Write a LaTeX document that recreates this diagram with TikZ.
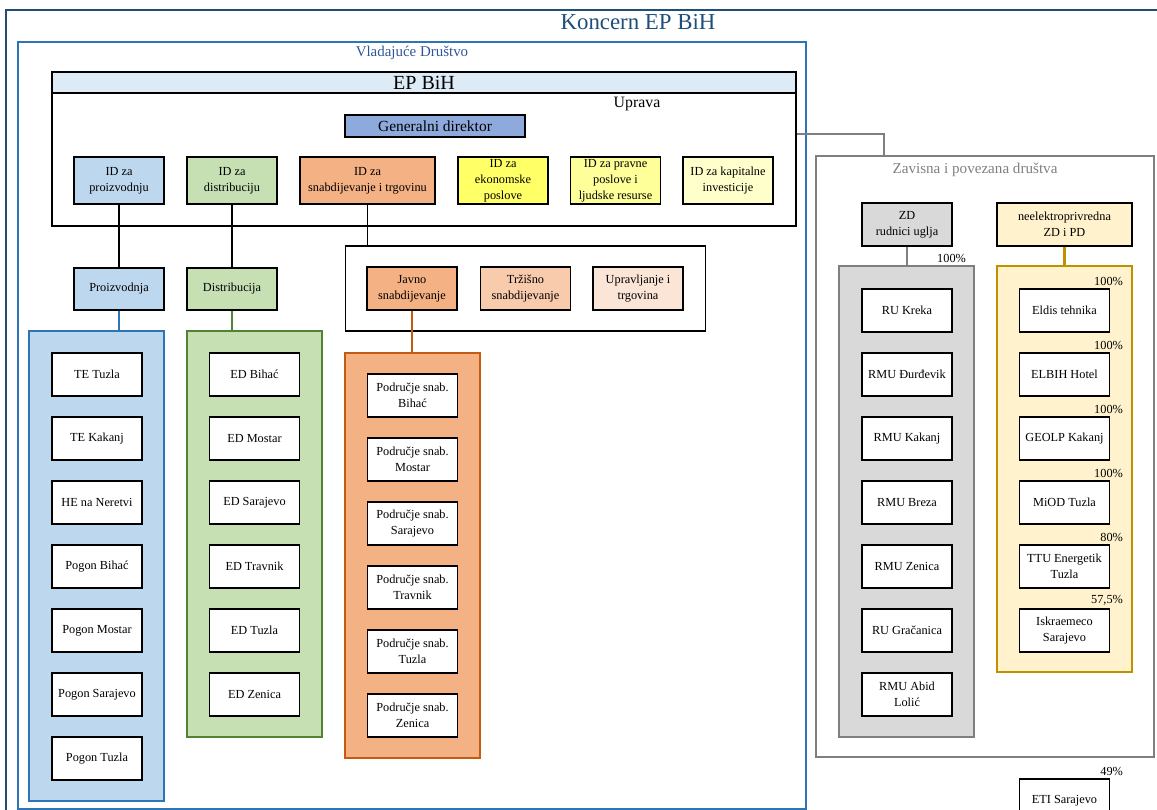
\documentclass[tikz,border=0pt]{standalone}
\usepackage{fontspec}
\setmainfont{Liberation Serif}
\usetikzlibrary{positioning}

\definecolor{naslov}{HTML}{1F4E79}
\definecolor{vlad}{HTML}{2E75B6}
\definecolor{vladtekst}{HTML}{2F5597}
\definecolor{zaglavlje}{HTML}{DDEBF7}
\definecolor{gdboja}{HTML}{8EA9DB}
\definecolor{fproiz}{HTML}{BDD7EE}
\definecolor{fdist}{HTML}{C6E0B4}
\definecolor{cdist}{HTML}{548235}
\definecolor{fsnab}{HTML}{F4B183}
\definecolor{csnab}{HTML}{C55A11}
\definecolor{ftrz}{HTML}{F8CBAD}
\definecolor{fupr}{HTML}{FBE5D6}
\definecolor{fekon}{HTML}{FFFF66}
\definecolor{fpravne}{HTML}{FFFF99}
\definecolor{fkap}{HTML}{FFFFCC}
\definecolor{fsiva}{HTML}{D9D9D9}
\definecolor{csiva}{HTML}{7F7F7F}
\definecolor{fzlat}{HTML}{FFF2CC}
\definecolor{czlat}{HTML}{BF9000}

\tikzset{
  jed/.style={draw=black, line width=0.6pt, fill=white, minimum width=1.8cm,
    minimum height=0.86cm, align=center, inner sep=1pt,
    font=\fontsize{7}{9}\selectfont},
  okvir/.style={line width=1.2pt, inner sep=0pt},
  udio/.style={anchor=south east, inner sep=1pt, font=\fontsize{7}{8}\selectfont}
}

\begin{document}
\begin{tikzpicture}[x=0.02cm, y=-0.02cm]
\useasboundingbox (0,0) rectangle (1157,810);

% koncern i vladajuce drustvo
\draw[naslov, line width=1pt] (6,812) -- (6,10) -- (1160,10);
\node[naslov, font=\fontsize{13}{15}\selectfont] (koncern) at (638,22) {Koncern EP BiH};
\draw[vlad, line width=1.2pt] (18,42) rectangle (806,809);
\node[vladtekst, font=\fontsize{8.5}{10}\selectfont] (vladajuce) at (412,53) {Vladajuće Društvo};

% EP BiH
\node[draw=black, line width=0.6pt, fill=zaglavlje, minimum width=14.88cm, minimum height=0.42cm,
  inner sep=0pt, font=\fontsize{11.4}{13}\selectfont] (zaglav) at (424,82.5) {EP BiH};
\node[draw=black, line width=1.2pt, minimum width=14.88cm, minimum height=3.08cm] (epbih) at (424,149) {};
\node[font=\fontsize{9}{10}\selectfont] (uprava) at (637,104) {Uprava};
\node[jed, fill=gdboja, minimum width=3.6cm, minimum height=0.44cm,
  font=\fontsize{8.8}{10}\selectfont] (gd) at (435,126) {Generalni direktor};

\node[jed, fill=fproiz, minimum height=0.94cm] (idproiz) at (119,180.5) {ID za\\proizvodnju};
\node[jed, fill=fdist, minimum height=0.94cm] (iddist) at (232,180.5) {ID za\\distribuciju};
\node[jed, fill=fsnab, minimum height=0.94cm, minimum width=2.7cm] (idsnab) at (367.5,180.5) {ID za\\snabdijevanje i trgovinu};
\node[jed, fill=fekon, minimum height=0.94cm, inner sep=0pt] (idekon) at (503,180.5) {ID za\\ekonomske\\poslove};
\node[jed, fill=fpravne, minimum height=0.94cm, inner sep=0pt] (idpravne) at (615.5,180.5) {ID za pravne\\poslove i\\ljudske resurse};
\node[jed, fill=fkap, minimum height=0.94cm] (idkap) at (728,180.5) {ID za kapitalne\\investicije};

% sektori
\node[jed, fill=fproiz, minimum height=0.84cm] (proiz) at (119,289) {Proizvodnja};
\node[jed, fill=fdist, minimum height=0.84cm] (dist) at (232,289) {Distribucija};
\node[draw=black, line width=0.6pt, fill=white, minimum width=7.22cm, minimum height=1.7cm] (snabokvir) at (525.5,288.5) {};
\node[jed, fill=fsnab] (javno) at (412,288.5) {Javno\\snabdijevanje};
\node[jed, fill=ftrz] (trzisno) at (525.5,288.5) {Tržišno\\snabdijevanje};
\node[jed, fill=fupr] (upravlj) at (638,288.5) {Upravljanje i\\trgovina};

\draw[line width=0.6pt] (idproiz) -- (proiz);
\draw[line width=0.6pt] (iddist) -- (dist);
\draw[line width=0.6pt] (idsnab.south) -- (idsnab.south |- snabokvir.north);

% okviri s podružnicama
\node[okvir, draw=vlad, fill=fproiz, minimum width=2.7cm, minimum height=9.4cm] (frproiz) at (96.5,566) {};
\node[okvir, draw=cdist, fill=fdist, minimum width=2.7cm, minimum height=8.12cm] (frdist) at (254.5,534) {};
\node[okvir, draw=csnab, fill=fsnab, minimum width=2.7cm, minimum height=8.1cm] (frsnab) at (412.5,555.5) {};

\draw[vlad, line width=1.2pt] (proiz.south) -- (proiz.south |- frproiz.north);
\draw[cdist, line width=1.2pt] (dist.south) -- (dist.south |- frdist.north);
\draw[csnab, line width=1.2pt] (javno.south) -- (javno.south |- frsnab.north);

\foreach \ime [count=\i from 0] in {TE Tuzla, TE Kakanj, HE na Neretvi, Pogon Bihać,
    Pogon Mostar, Pogon Sarajevo, Pogon Tuzla}
  \node[jed] (pr\i) at (97,374.5+64*\i) {\ime};

\foreach \ime [count=\i from 0] in {ED Bihać, ED Mostar, ED Sarajevo, ED Travnik,
    ED Tuzla, ED Zenica}
  \node[jed] (ed\i) at (254.5,374.5+64*\i) {\ime};

\foreach \ime [count=\i from 0] in {Bihać, Mostar, Sarajevo, Travnik, Tuzla, Zenica}
  \node[jed] (ps\i) at (412.5,395.5+64*\i) {Područje snab.\\\ime};

% zavisna i povezana drustva
\node[draw=csiva, line width=1pt, minimum width=6.76cm, minimum height=12.02cm] (zavisna) at (985,456.5) {};
\node[csiva, font=\fontsize{8.6}{10}\selectfont] (zavtekst) at (975,170) {Zavisna i povezana društva};
\coordinate (lom) at (884,134);
\draw[csiva, line width=0.8pt] (epbih.east |- lom) -- (lom) -- (lom |- zavisna.north);

\node[jed, fill=fsiva] (zdrud) at (907,224.5) {ZD\\rudnici uglja};
\node[jed, fill=fzlat, minimum width=2.7cm] (zdne) at (1064.5,224.5) {neelektroprivredna\\ZD i PD};

\node[okvir, draw=csiva, fill=fsiva, minimum width=2.7cm, minimum height=9.42cm] (frrud) at (906.5,501.5) {};
\node[okvir, draw=czlat, fill=fzlat, minimum width=2.7cm, minimum height=8.12cm] (frne) at (1064.5,469) {};

\draw[csiva, line width=1.2pt] (zdrud) -- (zdrud |- frrud.north);
\draw[czlat, line width=1.2pt] (zdne) -- (zdne |- frne.north);
\node[udio] (udiorud) at (968,265) {100\%};

\foreach \ime [count=\i from 0] in {RU Kreka, RMU Đurđevik, RMU Kakanj, RMU Breza,
    RMU Zenica, RU Gračanica, {RMU Abid\\Lolić}}
  \node[jed] (ru\i) at (907,310.5+64*\i) {\ime};

\foreach \ime/\posto [count=\i from 0] in {Eldis tehnika/100, ELBIH Hotel/100,
    GEOLP Kakanj/100, MiOD Tuzla/100, {TTU Energetik\\Tuzla}/80, {Iskraemeco\\Sarajevo}/{57,5}}
{
  \node[jed] (ne\i) at (1064.5,310.5+64*\i) {\ime};
  \node[udio] (udione\i) at (1125,288+64*\i) {\posto\%};
}

\node[jed] (eti) at (1064.5,800.5) {ETI Sarajevo};
\node[udio] (udioeti) at (1125,778) {49\%};
\end{tikzpicture}
\end{document}
